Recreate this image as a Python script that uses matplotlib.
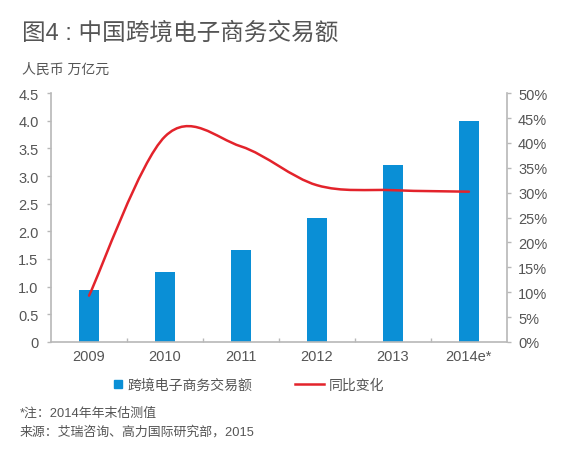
import numpy as np
import matplotlib
matplotlib.use('Agg')
import matplotlib.pyplot as plt
from matplotlib.path import Path
from matplotlib.patches import PathPatch
from matplotlib.lines import Line2D

plt.rcParams['font.family'] = ['Liberation Sans', 'Noto Sans CJK SC', 'DejaVu Sans']

# 数据
tahun = ['2009', '2010', '2011', '2012', '2013', '2014e*']
nilai = [0.93, 1.27, 1.66, 2.24, 3.20, 4.00]          # 万亿元
tumbuh = [9.3, 41.3, 39.3, 31.5, 30.5, 30.2]          # 同比变化 %
y_kiri = [0, 0.5, 1.0, 1.5, 2.0, 2.5, 3.0, 3.5, 4.0, 4.5]
y_kanan = [0, 5, 10, 15, 20, 25, 30, 35, 40, 45, 50]

biru = '#0a8fd6'
merah = '#e3232b'
abu = '#b8b8b8'
teks = '#555555'

fig = plt.figure(figsize=(5.8, 4.64), dpi=100)
ax = fig.add_axes([0.088, 0.261, 0.786, 0.536])
ax2 = ax.twinx()

x = np.arange(len(tahun))
ax.bar(x, nilai, width=0.27, color=biru, zorder=2)
ax.set_xlim(-0.5, len(tahun) - 0.5)
ax.set_ylim(0, 4.5)
ax.set_yticks(y_kiri)
ax.set_yticklabels(['0'] + [f'{v:.1f}' for v in y_kiri[1:]])
ax.set_xticks(x)
ax.set_xticklabels(tahun)
ax.set_xticks(np.arange(0.5, len(tahun) - 1, 1), minor=True)

# garis halus (gaya Excel) lewat titik data
pts = np.column_stack([x, tumbuh]).astype(float)
verts = [pts[0]]
codes = [Path.MOVETO]
n = len(pts)
for i in range(n - 1):
    p0 = pts[max(i - 1, 0)]
    p1 = pts[i]
    p2 = pts[i + 1]
    p3 = pts[min(i + 2, n - 1)]
    verts += [p1 + (p2 - p0) / 6, p2 - (p3 - p1) / 6, p2]
    codes += [Path.CURVE4] * 3
ax2.add_patch(PathPatch(Path(verts, codes), facecolor='none', edgecolor=merah,
                        lw=1.8, zorder=3, capstyle='round'))
ax2.set_ylim(0, 50)
ax2.set_yticks(y_kanan)
ax2.set_yticklabels([f'{v}%' for v in y_kanan])

for a in (ax, ax2):
    for s in a.spines.values():
        s.set_color(abu)
        s.set_linewidth(1.2)
    a.spines['top'].set_visible(False)
ax.spines['right'].set_visible(False)
ax2.spines['left'].set_visible(False)
ax2.spines['bottom'].set_visible(False)

ax.tick_params(axis='y', length=3, width=1, color=abu, pad=6, labelsize=10.5, labelcolor=teks)
ax2.tick_params(axis='y', length=3, width=1, color=abu, pad=5, labelsize=10.5, labelcolor=teks)
ax.tick_params(axis='x', which='major', length=0, pad=5, labelsize=10.5, labelcolor=teks)
ax.tick_params(axis='x', which='minor', length=3, width=1, color=abu, direction='in')

# judul dan catatan
fig.text(0.038, 0.928, '图4 : 中国跨境电子商务交易额', fontsize=17, color=teks, va='center')
fig.text(0.038, 0.849, '人民币 万亿元', fontsize=10, color=teks, va='center')

fig.legend([Line2D([], [], marker='s', linestyle='none', markersize=6, color=biru)],
           ['跨境电子商务交易额'], loc='center left', bbox_to_anchor=(0.172, 0.168),
           frameon=False, fontsize=10, labelcolor=teks,
           handlelength=0.8, handletextpad=0.3)
fig.legend([Line2D([], [], color=merah, lw=1.8)], ['同比变化'], loc='center left',
           bbox_to_anchor=(0.487, 0.168), frameon=False, fontsize=10, labelcolor=teks,
           handlelength=2.1, handletextpad=0.3)

fig.text(0.034, 0.108, '*注：2014年年末估测值', fontsize=9.3, color=teks, va='center')
fig.text(0.034, 0.068, '来源：艾瑞咨询、高力国际研究部，2015', fontsize=9.3, color=teks, va='center')

fig.savefig('out.png', dpi=100)
